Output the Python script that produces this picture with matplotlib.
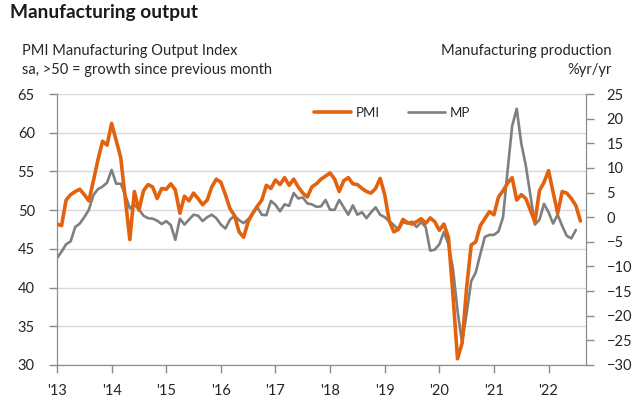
import numpy as np
import matplotlib
matplotlib.use("Agg")
import matplotlib.pyplot as plt

# monthly data, Jan 2013 onwards
pmi = [48.2, 48.0, 51.3, 52.0, 52.4, 52.7, 52.0, 51.2, 53.8, 56.5, 58.9, 58.4,
       61.2, 59.0, 56.8, 51.5, 46.2, 52.4, 50.0, 52.5, 53.3, 53.0, 51.5, 52.8,
       52.7, 53.4, 52.6, 49.6, 51.8, 51.2, 52.2, 51.5, 50.7, 51.3, 53.0, 54.0,
       53.6, 52.0, 50.2, 49.3, 47.2, 46.5, 48.5, 49.6, 50.5, 51.3, 53.2, 52.8,
       53.9, 53.3, 54.2, 53.2, 54.0, 53.0, 52.2, 51.7, 53.0, 53.4, 54.0, 54.4,
       54.8, 54.0, 52.4, 53.8, 54.2, 53.4, 53.3, 52.8, 52.4, 52.2, 52.8, 54.1,
       52.0, 48.6, 47.2, 47.5, 48.8, 48.4, 48.2, 48.5, 48.9, 48.3, 49.0, 48.5,
       47.4, 48.2, 46.5, 39.0, 30.8, 32.8, 40.0, 45.5, 45.9, 48.0, 48.9, 49.8,
       49.4, 51.7, 52.5, 53.5, 54.2, 51.3, 52.0, 51.5, 50.0, 48.5, 52.5, 53.6,
       55.1, 52.3, 49.6, 52.4, 52.2, 51.5, 50.6, 48.6]

mp = [-8.3, -7.0, -5.5, -4.9, -2.0, -1.3, 0.0, 1.5, 4.5, 5.7, 6.2, 7.0,
      9.6, 6.8, 6.8, 4.5, 1.8, 2.5, 1.6, 0.3, -0.2, -0.3, -0.7, -1.4,
      -0.8, -1.6, -4.6, -0.3, -1.5, -0.5, 0.5, 0.3, -0.8, 0.0, 0.5, -0.2,
      -1.5, -2.3, -0.5, 0.3, -0.6, -1.2, -0.4, 0.7, 2.0, 0.5, 0.4, 3.3,
      2.5, 1.2, 2.6, 2.3, 4.9, 3.8, 4.0, 2.8, 2.6, 2.1, 2.2, 3.5,
      1.5, 1.5, 3.5, 2.0, 0.5, 2.4, 0.5, 1.0, -0.2, 1.0, 2.0, 0.5,
      0.0, -0.8, -1.6, -2.5, -1.0, -1.3, -0.9, -2.0, -1.0, -2.0, -6.8, -6.6,
      -5.5, -3.0, -5.5, -10.5, -19.0, -25.5, -19.5, -13.0, -11.2, -7.5, -4.0, -3.6,
      -3.6, -2.9, 0.0, 9.5, 18.5, 22.0, 15.0, 10.5, 4.5, -1.5, -0.5, 2.7,
      1.0, -1.3, 0.5, -1.8, -3.8, -4.3, -2.6]

years = list(range(2013, 2023))
year_labels = ["'13", "'14", "'15", "'16", "'17", "'18", "'19", "'20", "'21", "'22"]

t_pmi = 2013 + np.arange(len(pmi)) / 12
t_mp = 2013 + np.arange(len(mp)) / 12

plt.rcParams['font.family'] = ['Lato', 'DejaVu Sans']
txt = '#262626'
axcol = '#8c8c8c'

fig = plt.figure(figsize=(6.35, 4.04), dpi=100)
ax = fig.add_axes([57 / 635, 39 / 404, 528.7 / 635, 271 / 404])
ax2 = ax.twinx()

ax.set_xlim(2013, 2022.68)
ax.set_ylim(30, 65)
ax2.set_ylim(-30, 25)
ax.set_yticks(range(30, 66, 5))
ax2.set_yticks(range(-30, 26, 5))
ax.set_xticks(years)
ax.set_xticklabels(year_labels)

ax.grid(axis='y', color='#d9d9d9', linewidth=1)
ax.set_axisbelow(True)

# PMI goes on the left scale, MP on the right one; both drawn on ax2 so the
# orange line stays on top, with PMI mapped from the left scale
pmi_right = (np.array(pmi) - 30) / 35 * 55 - 30
l2, = ax2.plot(t_mp, mp, color='#7f7f7f', linewidth=1.9, label='MP',
               solid_joinstyle='round', solid_capstyle='round')
l1, = ax2.plot(t_pmi, pmi_right, color='#e2620e', linewidth=2.6, label='PMI',
               zorder=3, solid_joinstyle='round', solid_capstyle='round')

for a in (ax, ax2):
    a.spines['top'].set_visible(False)
    a.spines['left'].set_color(axcol)
    a.spines['right'].set_color(axcol)
    a.spines['bottom'].set_color(axcol)
    a.tick_params(labelcolor=txt, labelsize=10.5, length=6, width=1, color=axcol)

ax.tick_params(axis='y', pad=10)
ax2.tick_params(axis='y', pad=9)
ax.tick_params(axis='x', pad=8)

ax2.legend(handles=[l1, l2], loc='center left', bbox_to_anchor=(0.487, 0.93),
           ncol=2, frameon=False, fontsize=9.5, handlelength=2.8,
           columnspacing=2.2, handletextpad=0.3, labelcolor=txt,
           borderpad=0, borderaxespad=0)

fig.text(10 / 635, 1 - 18 / 404, 'Manufacturing output', fontsize=13.8,
         fontweight='bold', color='#1a1a1a', ha='left', va='baseline')
fig.text(22 / 635, 1 - 55 / 404, 'PMI Manufacturing Output Index', fontsize=10.5,
         color=txt, ha='left', va='baseline')
fig.text(22 / 635, 1 - 74 / 404, 'sa, >50 = growth since previous month', fontsize=10.5,
         color=txt, ha='left', va='baseline')
fig.text(612 / 635, 1 - 55 / 404, 'Manufacturing production', fontsize=10.6,
         color=txt, ha='right', va='baseline')
fig.text(612 / 635, 1 - 74 / 404, '%yr/yr', fontsize=10.6,
         color=txt, ha='right', va='baseline')

fig.savefig('out.png', dpi=100)
